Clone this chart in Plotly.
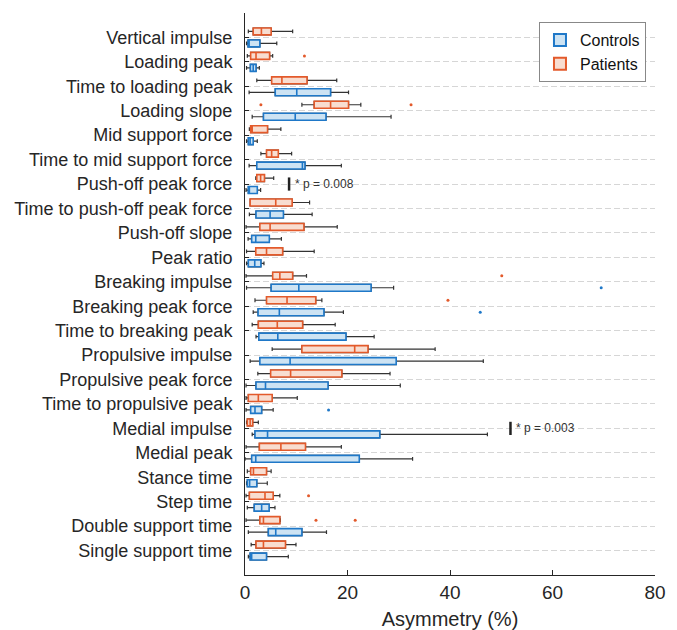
import plotly.graph_objects as go

categories = [
    "Vertical impulse", "Loading peak", "Time to loading peak", "Loading slope",
    "Mid support force", "Time to mid support force", "Push-off peak force",
    "Time to push-off peak force", "Push-off slope", "Peak ratio",
    "Breaking impulse", "Breaking peak force", "Time to breaking peak",
    "Propulsive impulse", "Propulsive peak force", "Time to propulsive peak",
    "Medial impulse", "Medial peak", "Stance time", "Step time",
    "Double support time", "Single support time",
]

# Patients
pat_low = [0.65, 0.45, 2.3, 11.1, 0.85, 3.1, 2.1, 1.0, 0.2, 0.3, 0.2, 1.95, 1.4, 5.3, 2.5, 0.2, 0.3, 0.2, 0.45, 0.2, 0.2, 1.2]
pat_q1 = [1.6, 1.1, 5.2, 13.5, 1.1, 4.2, 2.3, 1.0, 2.9, 2.1, 5.4, 4.2, 2.6, 11.1, 5.0, 0.65, 0.45, 2.8, 1.1, 0.85, 2.9, 2.15]
pat_med = [3.2, 2.15, 7.2, 16.7, 1.4, 5.2, 3.05, 6.0, 4.9, 4.2, 6.8, 8.2, 6.3, 21.4, 8.9, 2.6, 1.0, 7.0, 1.65, 3.9, 3.6, 3.6]
pat_q3 = [5.1, 4.8, 12.1, 20.2, 4.4, 6.5, 3.8, 9.2, 11.5, 7.35, 9.3, 13.8, 11.25, 24.0, 18.9, 5.3, 1.5, 11.8, 4.2, 5.5, 6.8, 7.9]
pat_high = [9.3, 5.4, 17.9, 22.6, 7.0, 9.1, 5.6, 12.6, 18.0, 13.5, 12.0, 15.0, 17.6, 37.1, 28.3, 10.2, 2.6, 18.8, 5.1, 6.8, 6.9, 9.95]
pat_out = [[], [11.6], [], [3.1, 32.4], [], [], [], [], [], [], [50.1], [39.6], [], [], [], [], [], [], [], [12.4], [13.85, 21.5], []]

# Controls
con_low = [0.3, 0.3, 0.8, 1.4, 0.3, 0.8, 0.2, 0.85, 0.6, 0.3, 0.3, 1.6, 2.15, 1.0, 0.2, 0.2, 1.4, 0.0, 0.3, 0.45, 0.65, 0.65]
con_q1 = [0.6, 1.05, 5.9, 3.6, 0.65, 2.3, 0.65, 2.15, 1.3, 0.65, 5.1, 2.55, 2.7, 2.9, 2.15, 1.1, 1.95, 1.3, 0.45, 1.8, 4.55, 1.0]
con_med = [0.8, 1.6, 10.1, 9.8, 1.0, 11.2, 0.85, 4.9, 2.1, 1.9, 10.5, 6.7, 6.4, 8.8, 4.0, 1.95, 4.4, 2.1, 0.9, 3.25, 6.0, 1.3]
con_q3 = [2.9, 2.15, 16.7, 15.8, 1.6, 11.7, 2.4, 7.5, 4.75, 3.1, 24.6, 15.4, 19.7, 29.5, 16.2, 3.25, 26.3, 22.3, 2.3, 4.7, 11.1, 4.2]
con_high = [6.2, 2.8, 20.2, 28.5, 2.4, 18.8, 3.05, 13.1, 7.1, 3.7, 29.0, 19.2, 25.2, 46.5, 30.3, 5.5, 47.3, 32.7, 4.35, 5.85, 15.9, 8.45]
con_out = [[], [], [], [], [], [], [], [], [], [], [69.5], [45.9], [], [], [], [16.3], [], [], [], [], [], []]

# Significance marks
sig_cats = ["Push-off peak force", "Medial impulse"]
sig_x = [8.6, 51.8]
sig_text = ["* p = 0.008", "* p = 0.003"]

x_ticks = [0, 20, 40, 60, 80]

BLUE = "#1F78C8"
BLUE_FILL = "#CDE3F3"
RED = "#E35A2B"
RED_FILL = "#F8DDD0"
WHISK = "#333333"
FONT = "Liberation Sans, Arial, sans-serif"

fig = go.Figure()


def add_group(name, color, fill, low, q1, med, q3, high, out, grp):
    # sample points per category: whisker ends plus outliers
    samples = [[lo, hi] + list(o) for lo, hi, o in zip(low, high, out)]
    # whiskers + outliers (dark lines)
    fig.add_trace(go.Box(
        name=name, y=categories, x=samples, orientation="h",
        q1=q1, median=med, q3=q3, lowerfence=low, upperfence=high,
        boxpoints="outliers", jitter=0, pointpos=0,
        marker=dict(color=color, size=3),
        line=dict(color=WHISK, width=1.2), fillcolor="rgba(0,0,0,0)",
        whiskerwidth=0.55, offsetgroup=grp, alignmentgroup="a",
        showlegend=False, hoverinfo="skip",
    ))
    # coloured box
    fig.add_trace(go.Box(
        name=name, y=categories, orientation="h",
        q1=q1, median=med, q3=q3, lowerfence=q1, upperfence=q3,
        boxpoints=False,
        line=dict(color=color, width=1.6), fillcolor=fill,
        whiskerwidth=0, offsetgroup=grp, alignmentgroup="a",
        showlegend=True,
    ))


add_group("Controls", BLUE, BLUE_FILL, con_low, con_q1, con_med, con_q3, con_high, con_out, "c")
add_group("Patients", RED, RED_FILL, pat_low, pat_q1, pat_med, pat_q3, pat_high, pat_out, "p")

order = categories[::-1]
for cat, xv, txt in zip(sig_cats, sig_x, sig_text):
    idx = order.index(cat)
    fig.add_shape(type="line", xref="x", yref="y", x0=xv, x1=xv,
                  y0=idx - 0.27, y1=idx + 0.27,
                  line=dict(color="#222222", width=2.5))
    fig.add_annotation(x=xv, y=idx, xref="x", yref="y", text=txt,
                       showarrow=False, xanchor="left", xshift=4,
                       font=dict(family=FONT, size=12, color="#333333"))

fig.update_layout(
    width=677, height=630,
    margin=dict(l=245, r=22, t=13, b=55),
    paper_bgcolor="white", plot_bgcolor="white",
    boxmode="group", boxgap=0.02, boxgroupgap=0.42,
    font=dict(family=FONT, size=18, color="#262626"),
    legend=dict(x=0.978, xanchor="right", y=0.984, yanchor="top",
                bgcolor="white", bordercolor="#888888", borderwidth=1,
                font=dict(size=16, color="#111111"), tracegroupgap=0,
                itemsizing="constant"),
    xaxis=dict(type="linear", range=[0, 80], tickvals=x_ticks, showline=True,
               linecolor="#262626", linewidth=1, ticks="inside", ticklen=5,
               tickcolor="#262626", showgrid=False, zeroline=False,
               tickfont=dict(size=19),
               title=dict(text="Asymmetry (%)", font=dict(size=20), standoff=10),
               automargin=False, fixedrange=True),
    yaxis=dict(type="category", categoryorder="array", categoryarray=order,
               range=[-1, 22], showline=True, linecolor="#262626", linewidth=1,
               ticks="inside", ticklen=4, tickcolor="#262626",
               showgrid=True, gridcolor="#D6D6D6", griddash="6px,3px", gridwidth=1,
               tickfont=dict(size=18), ticklabelstandoff=8,
               automargin=False, fixedrange=True),
)

fig.write_html("out.html", config={"displayModeBar": False},
               post_script="document.body.style.margin='0';document.body.style.overflow='hidden';")
